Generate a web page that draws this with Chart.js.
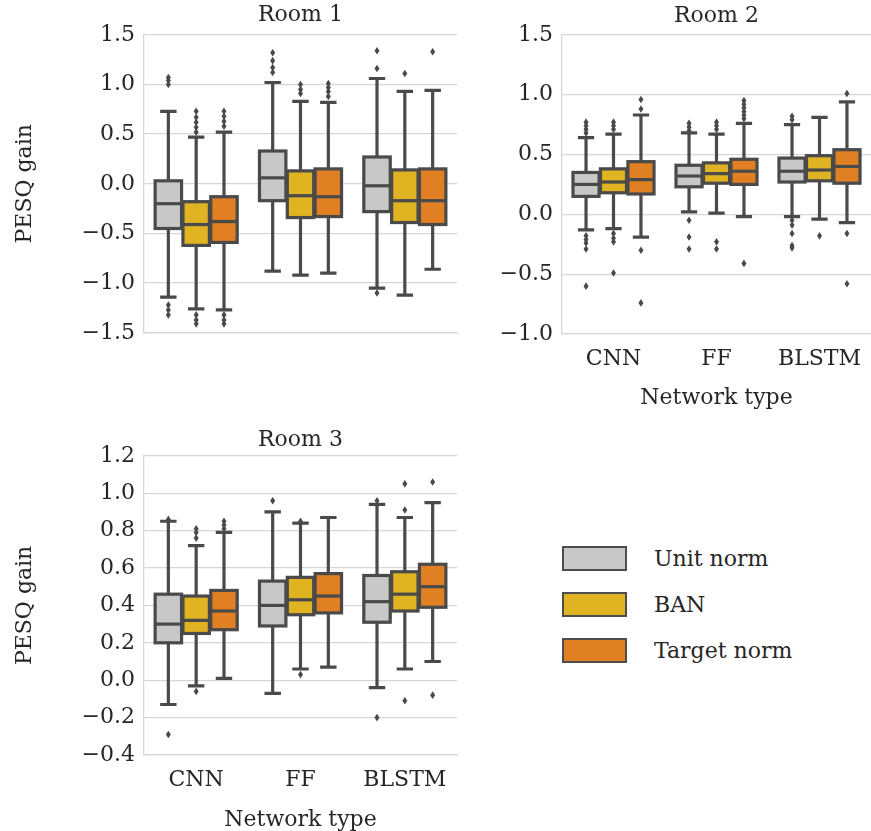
<!DOCTYPE html>
<html>
<head>
<meta charset="utf-8">
<script src="https://cdn.jsdelivr.net/npm/chart.js@4.4.1/dist/chart.umd.min.js"></script>
<style>
  body { margin: 0; background: #fff; }
  #wrap { position: relative; width: 871px; height: 831px; overflow: hidden; }
  canvas { position: absolute; }
  #c1 { left: 0; top: 0; }
  #c2 { left: 470px; top: 0; }
  #c3 { left: 0; top: 420px; }
  #legend { position: absolute; left: 562px; top: 535px; font-family: "DejaVu Serif", serif; font-size: 22px; color: #262626; }
  .item { display: flex; align-items: center; height: 46px; }
  .swatch { width: 61px; height: 21px; border: 2px solid #4d4d4d; margin-right: 27px; }
</style>
</head>
<body>
<div id="wrap">
  <canvas id="c1" width="462" height="355"></canvas>
  <canvas id="c2" width="401" height="411"></canvas>
  <canvas id="c3" width="462" height="413"></canvas>
  <div id="legend"></div>
</div>
<script>
const categories = ['CNN', 'FF', 'BLSTM'];
const seriesNames = ['Unit norm', 'BAN', 'Target norm'];
const seriesColors = ['#c8c9c7', '#dfb322', '#e08023'];
const lineColor = '#4a4a4a';
const gridColor = '#d6d6d6';
const textColor = '#262626';

// box stats per category: [low whisker, q1, median, q3, high whisker]
const room1Unit   = [[-1.14, -0.45, -0.20, 0.03, 0.73], [-0.88, -0.17, 0.06, 0.33, 1.02], [-1.05, -0.28, -0.02, 0.27, 1.06]];
const room1Ban    = [[-1.26, -0.62, -0.41, -0.18, 0.47], [-0.92, -0.34, -0.12, 0.13, 0.83], [-1.12, -0.39, -0.17, 0.14, 0.93]];
const room1Target = [[-1.27, -0.59, -0.38, -0.13, 0.52], [-0.90, -0.33, -0.13, 0.15, 0.82], [-0.86, -0.41, -0.17, 0.15, 0.94]];
const room1UnitOut   = [[1.07, 1.04, 1.0, -1.22, -1.27, -1.32], [1.32, 1.24, 1.17, 1.12], [1.34, 1.16, -1.10]];
const room1BanOut    = [[0.73, 0.67, 0.62, 0.57, 0.52, -1.32, -1.37, -1.41], [1.0, 0.95, 0.91], [1.11]];
const room1TargetOut = [[0.73, 0.68, 0.63, 0.58, -1.32, -1.37, -1.41], [1.01, 0.97, 0.93, 0.88], [1.33]];

const room2Unit   = [[-0.13, 0.15, 0.25, 0.35, 0.64], [0.02, 0.23, 0.32, 0.41, 0.68], [-0.02, 0.27, 0.36, 0.47, 0.75]];
const room2Ban    = [[-0.12, 0.18, 0.27, 0.38, 0.67], [0.01, 0.26, 0.34, 0.43, 0.67], [-0.04, 0.28, 0.37, 0.49, 0.81]];
const room2Target = [[-0.19, 0.17, 0.29, 0.44, 0.83], [-0.02, 0.25, 0.36, 0.46, 0.76], [-0.07, 0.26, 0.40, 0.54, 0.94]];
const room2UnitOut   = [[0.77, 0.74, 0.71, 0.68, -0.18, -0.21, -0.24, -0.29, -0.60], [0.76, 0.73, 0.70, -0.05, -0.19, -0.29], [0.82, 0.79, -0.05, -0.09, -0.16, -0.26, -0.28]];
const room2BanOut    = [[0.77, 0.74, 0.71, -0.16, -0.20, -0.23, -0.49], [0.77, 0.74, 0.71, -0.23, -0.29], [-0.18]];
const room2TargetOut = [[0.96, 0.88, -0.30, -0.74], [0.95, 0.92, 0.89, 0.86, 0.83, 0.80, -0.41], [1.01, -0.16, -0.58]];

const room3Unit   = [[-0.13, 0.20, 0.30, 0.46, 0.85], [-0.07, 0.29, 0.40, 0.53, 0.90], [-0.04, 0.31, 0.42, 0.56, 0.94]];
const room3Ban    = [[-0.03, 0.25, 0.32, 0.45, 0.72], [0.06, 0.35, 0.43, 0.55, 0.84], [0.06, 0.37, 0.46, 0.58, 0.87]];
const room3Target = [[0.01, 0.27, 0.37, 0.48, 0.79], [0.07, 0.36, 0.45, 0.57, 0.87], [0.10, 0.39, 0.50, 0.62, 0.95]];
const room3UnitOut   = [[0.86, -0.29], [0.96], [0.96, -0.20]];
const room3BanOut    = [[0.81, 0.79, 0.76, -0.06], [0.85, 0.03], [1.05, 0.91, -0.11]];
const room3TargetOut = [[0.85, 0.83, 0.81], [], [1.06, -0.08]];

const room1Ticks = [-1.5, -1.0, -0.5, 0.0, 0.5, 1.0, 1.5];
const room1TickLabels = ['\u22121.5', '\u22121.0', '\u22120.5', '0.0', '0.5', '1.0', '1.5'];
const room2Ticks = [-1.0, -0.5, 0.0, 0.5, 1.0, 1.5];
const room2TickLabels = ['\u22121.0', '\u22120.5', '0.0', '0.5', '1.0', '1.5'];
const room3Ticks = [-0.4, -0.2, 0.0, 0.2, 0.4, 0.6, 0.8, 1.0, 1.2];
const room3TickLabels = ['\u22120.4', '\u22120.2', '0.0', '0.2', '0.4', '0.6', '0.8', '1.0', '1.2'];

const FONT = '"DejaVu Serif", serif';

// draws whiskers, caps, box outline, median and outliers on top of the floating bars
const boxPlugin = {
    id: 'boxPlugin',
    afterDatasetsDraw(chart) {
        const ctx = chart.ctx;
        const ys = chart.scales.y;
        ctx.save();
        ctx.strokeStyle = lineColor;
        ctx.fillStyle = lineColor;
        ctx.lineWidth = 3.2;
        chart.data.datasets.forEach((ds, d) => {
            const meta = chart.getDatasetMeta(d);
            meta.data.forEach((bar, i) => {
                const { x, width } = bar.getProps(['x', 'width'], true);
                const s = ds.stats[i];
                const [lo, q1, med, q3, hi] = s.map(v => ys.getPixelForValue(v));
                const left = x - width / 2;
                const cap = width / 4;
                ctx.lineCap = 'butt';
                ctx.beginPath();
                ctx.moveTo(x, q3); ctx.lineTo(x, hi);
                ctx.moveTo(x, q1); ctx.lineTo(x, lo);
                ctx.stroke();
                ctx.lineCap = 'square';
                ctx.beginPath();
                ctx.moveTo(x - cap, hi); ctx.lineTo(x + cap, hi);
                ctx.moveTo(x - cap, lo); ctx.lineTo(x + cap, lo);
                ctx.stroke();
                ctx.lineCap = 'butt';
                ctx.strokeRect(left, q3, width, q1 - q3);
                ctx.beginPath();
                ctx.moveTo(left, med); ctx.lineTo(left + width, med);
                ctx.stroke();
                ds.outliers[i].forEach(v => {
                    const py = ys.getPixelForValue(v);
                    ctx.beginPath();
                    ctx.moveTo(x, py - 3.8);
                    ctx.lineTo(x + 2.5, py);
                    ctx.lineTo(x, py + 3.8);
                    ctx.lineTo(x - 2.5, py);
                    ctx.closePath();
                    ctx.fill();
                });
            });
        });
        ctx.restore();
    }
};

function makeRoom(id, title, stats, outs, ticks, tickLabels, o) {
    const datasets = seriesNames.map((name, k) => ({
        label: name,
        data: stats[k].map(s => [s[1], s[3]]),
        stats: stats[k],
        outliers: outs[k],
        backgroundColor: seriesColors[k],
        borderWidth: 0,
        categoryPercentage: 0.8,
        barPercentage: 0.95
    }));
    return new Chart(document.getElementById(id), {
        type: 'bar',
        data: { labels: categories, datasets },
        plugins: [boxPlugin],
        options: {
            responsive: false,
            animation: false,
            layout: { padding: { left: 0, right: o.padRight, top: 0, bottom: 0 } },
            plugins: {
                legend: { display: false },
                tooltip: { enabled: false },
                title: {
                    display: true, text: title, color: textColor, fullSize: false,
                    font: { family: FONT, size: 22, weight: 'normal' },
                    padding: { top: o.titleTop, bottom: o.titleBottom }
                }
            },
            scales: {
                x: {
                    grid: { display: false },
                    border: { color: gridColor, width: 1.3 },
                    ticks: { display: o.xLabels, color: textColor, padding: 4, font: { family: FONT, size: 22 } },
                    title: { display: o.xLabels, text: 'Network type', color: textColor, padding: 0, font: { family: FONT, size: 22 } },
                    afterFit: s => { s.height = o.xHeight; }
                },
                y: {
                    min: ticks[0], max: ticks[ticks.length - 1],
                    afterBuildTicks: s => { s.ticks = ticks.map(v => ({ value: v })); },
                    grid: { color: gridColor, lineWidth: 1.3, drawTicks: false },
                    border: { color: gridColor, width: 1.3 },
                    ticks: { color: textColor, padding: 9, font: { family: FONT, size: 22 }, callback: (v, i) => tickLabels[i] },
                    title: { display: o.yTitle, text: 'PESQ gain', color: textColor, padding: { top: 12, bottom: 0 }, font: { family: FONT, size: 22 } },
                    afterFit: s => { s.width = o.yWidth; }
                }
            }
        }
    });
}

makeRoom('c1', 'Room 1', [room1Unit, room1Ban, room1Target], [room1UnitOut, room1BanOut, room1TargetOut],
    room1Ticks, room1TickLabels, { padRight: 5, titleTop: 2, titleBottom: 6.4, xHeight: 7, xLabels: false, yTitle: true, yWidth: 144 });
makeRoom('c2', 'Room 2', [room2Unit, room2Ban, room2Target], [room2UnitOut, room2BanOut, room2TargetOut],
    room2Ticks, room2TickLabels, { padRight: 0, titleTop: 3, titleBottom: 5.4, xHeight: 77, xLabels: true, yTitle: false, yWidth: 92 });
makeRoom('c3', 'Room 3', [room3Unit, room3Ban, room3Target], [room3UnitOut, room3BanOut, room3TargetOut],
    room3Ticks, room3TickLabels, { padRight: 5, titleTop: 7, titleBottom: 2.4, xHeight: 78, xLabels: true, yTitle: true, yWidth: 144 });

const legend = document.getElementById('legend');
seriesNames.forEach((name, k) => {
    const row = document.createElement('div');
    row.className = 'item';
    row.innerHTML = `<div class="swatch" style="background:${seriesColors[k]}"></div><span>${name}</span>`;
    legend.appendChild(row);
});
</script>
</body>
</html>
